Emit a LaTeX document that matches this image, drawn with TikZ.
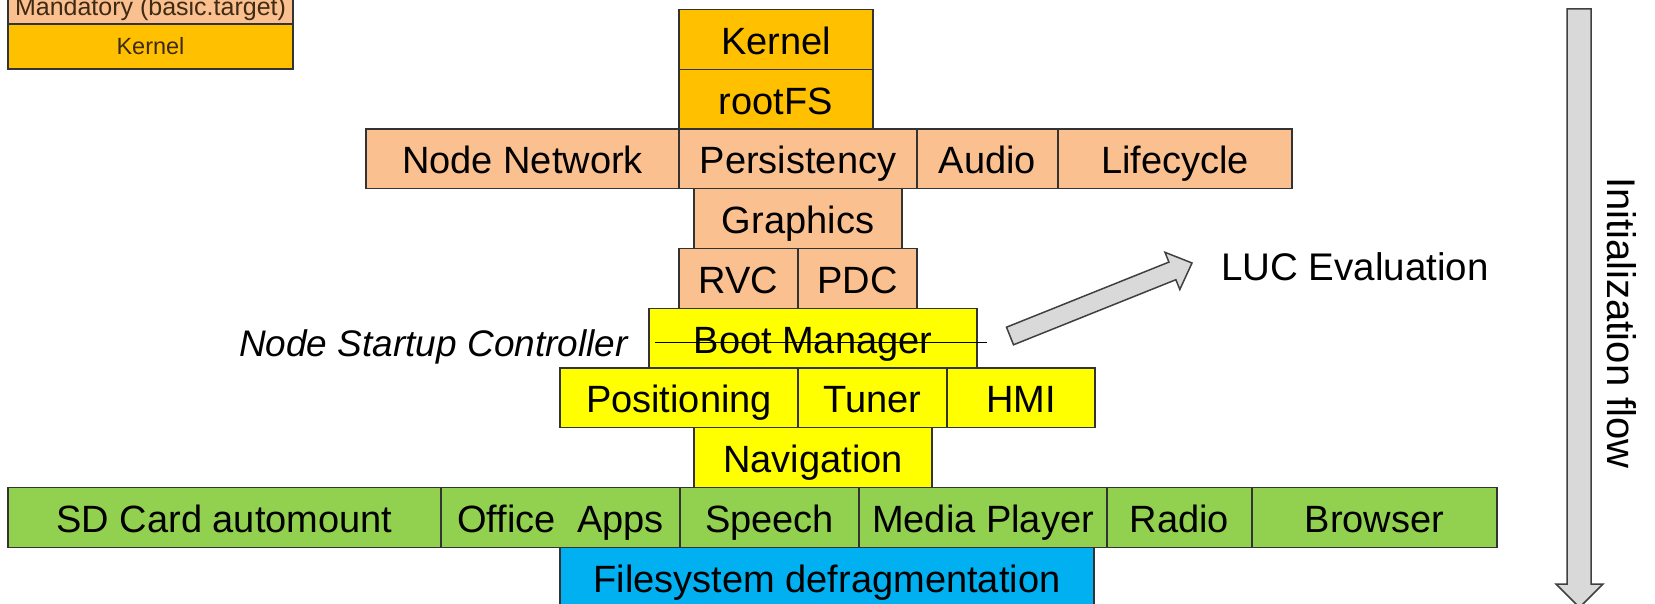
\documentclass[tikz,border=0pt]{standalone}
\usepackage{fontspec}
\setmainfont{Liberation Sans}
\definecolor{kern}{HTML}{FFC000}
\definecolor{peach}{HTML}{FAC090}
\definecolor{yel}{HTML}{FFFF00}
\definecolor{grn}{HTML}{92D050}
\definecolor{blu}{HTML}{00B0F0}
\definecolor{edge}{HTML}{333333}
\definecolor{legtext}{HTML}{3F2A14}
\definecolor{arrfill}{HTML}{D9D9D9}
\definecolor{arredge}{HTML}{404040}
\begin{document}
\begin{tikzpicture}[x=1pt,y=-1pt,
  blk/.style={draw=edge, line width=1.2pt, inner sep=0pt, outer sep=0pt,
    minimum height=59.75pt, font=\fontsize{38}{44}\selectfont,
    text height=32pt, text depth=2pt},
  legbox/.style={draw=edge, line width=1.2pt, inner sep=0pt, outer sep=0pt,
    minimum width=285pt, text=legtext},
  blockarrow/.style={fill=arrfill, draw=arredge, line width=1.5pt, line join=miter},
  lbl/.style={inner sep=0pt, font=\fontsize{38}{44}\selectfont}
]
\useasboundingbox (0,0) rectangle (1655,604);
\clip (0,0) rectangle (1655,604);
\fill[white] (0,0) rectangle (1655,604);

% legend
\node[legbox, fill=peach, minimum height=54pt, text height=38pt, text depth=1pt,
  font=\fontsize{25}{30}\selectfont] (legmand) at (150.5,-3) {Mandatory (basic.target)};
\node[legbox, fill=kern, minimum height=45pt, text height=20pt, text depth=3pt,
  font=\fontsize{23.5}{28}\selectfont] (legkern) at (150.5,46.5) {Kernel};

% row 0-1
\node[blk, fill=kern, minimum width=194pt] (kernel) at (776,39.375) {Kernel};
\node[blk, fill=kern, minimum width=194pt] (rootfs) at (776,99.125) {rootFS};
% row 2
\node[blk, fill=peach, minimum width=313pt] (nodenet) at (522.5,158.875) {Node Network};
\node[blk, fill=peach, minimum width=238pt] (persist) at (798,158.875) {Persistency};
\node[blk, fill=peach, minimum width=141pt] (audio) at (987.5,158.875) {Audio};
\node[blk, fill=peach, minimum width=234pt] (lifecycle) at (1175,158.875) {Lifecycle};
% row 3-4
\node[blk, fill=peach, minimum width=208pt] (graphics) at (798,218.625) {Graphics};
\node[blk, fill=peach, minimum width=119pt] (rvc) at (738.5,278.375) {RVC};
\node[blk, fill=peach, minimum width=119pt] (pdc) at (857.5,278.375) {PDC};
% row 5-7
\node[blk, fill=yel, minimum width=328pt] (boot) at (813,338.125) {Boot Manager};
\node[blk, fill=yel, minimum width=238pt] (positioning) at (679,397.875) {Positioning};
\node[blk, fill=yel, minimum width=149pt] (tuner) at (872.5,397.875) {Tuner};
\node[blk, fill=yel, minimum width=148pt] (hmi) at (1021,397.875) {HMI};
\node[blk, fill=yel, minimum width=238pt] (navigation) at (813,457.625) {Navigation};
% row 8
\node[blk, fill=grn, minimum width=433pt] (sdcard) at (224.5,517.375) {SD Card automount};
\node[blk, fill=grn, minimum width=239pt] (office) at (560.5,517.375) {Office\ \ Apps};
\node[blk, fill=grn, minimum width=179pt] (speech) at (769.5,517.375) {Speech};
\node[blk, fill=grn, minimum width=248pt] (media) at (983,517.375) {Media Player};
\node[blk, fill=grn, minimum width=145pt] (radio) at (1179.5,517.375) {Radio};
\node[blk, fill=grn, minimum width=245pt] (browser) at (1374.5,517.375) {Browser};
% row 9
\node[blk, fill=blu, minimum width=534pt] (filesys) at (827,577.125) {Filesystem defragmentation};

% Node Startup Controller and strike line
\node[lbl, font=\fontsize{37}{44}\selectfont\itshape, anchor=base east] (nsc) at (628,356.5) {Node Startup Controller};
\coordinate (s1) at (655,342.5);
\coordinate (s2) at (987,342.5);
\draw[line width=1pt, black] (s1) -- (s2);

% LUC evaluation arrow
\coordinate (a1) at (1013.5,344.8);
\coordinate (a2) at (1006.5,327.2);
\coordinate (a3) at (1168.9,262.1);
\coordinate (a4) at (1165,252.3);
\coordinate (a5) at (1192,263);
\coordinate (a6) at (1179.8,289.5);
\coordinate (a7) at (1175.9,279.7);
\draw[blockarrow] (a1) -- (a2) -- (a3) -- (a4) -- (a5) -- (a6) -- (a7) -- cycle;
\node[lbl, font=\fontsize{38.5}{44}\selectfont, anchor=base west] (luc) at (1221,280) {LUC Evaluation};

% Initialization flow arrow
\coordinate (f1) at (1567,9);
\coordinate (f2) at (1591,9);
\coordinate (f3) at (1591,584);
\coordinate (f4) at (1603,584);
\coordinate (f5) at (1579.5,607.5);
\coordinate (f6) at (1556,584);
\coordinate (f7) at (1567,584);
\draw[blockarrow] (f1) -- (f2) -- (f3) -- (f4) -- (f5) -- (f6) -- (f7) -- cycle;
\node[lbl, font=\fontsize{40}{46}\selectfont, rotate=-90, anchor=base] (initflow) at (1607,323) {Initialization flow};
\end{tikzpicture}
\end{document}
